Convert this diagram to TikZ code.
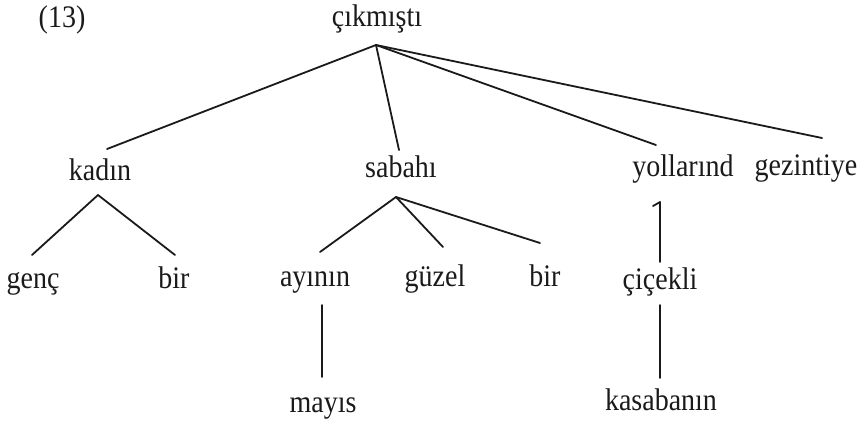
\documentclass[tikz,border=0pt]{standalone}
\usepackage{fontspec}
\setmainfont{Liberation Serif}
% the printed face is a little narrower than plain Times: stretch it upwards
\newcommand\tallword[1]{\scalebox{1}[1.12]{#1}}
\begin{document}
\begin{tikzpicture}[x=1pt,y=-1pt,
  word/.style={anchor=base,inner sep=0pt,font=\fontsize{28}{30}\selectfont,text=ink},
  edge/.style={draw=ink,line width=1.8pt,line cap=round,line join=round}]
\definecolor{ink}{HTML}{1A1A1A}
\useasboundingbox (0,0) rectangle (863,425);

% words, placed by centre and baseline
\node[word] (num)     at (62,28)   {\tallword{(13)}};
\node[word] (root)    at (377,27)  {\tallword{çıkmıştı}};
\node[word] (kadin)   at (100,181) {\tallword{kadın}};
\node[word] (sabahi)  at (401,178) {\tallword{sabahı}};
\node[word] (yol)     at (683,177) {\tallword{yollarınd}};
\node[word] (gez)     at (806,176) {\tallword{gezintiye}};
\node[word] (genc)    at (33,288)  {\tallword{genç}};
\node[word] (birA)    at (174,288) {\tallword{bir}};
\node[word] (ayinin)  at (315,287) {\tallword{ayının}};
\node[word] (guzel)   at (435,287) {\tallword{güzel}};
\node[word] (birB)    at (545,287) {\tallword{bir}};
\node[word] (cicekli) at (660,289) {\tallword{çiçekli}};
\node[word] (mayis)   at (323,412) {\tallword{mayıs}};
\node[word] (kasaba)  at (661,410) {\tallword{kasabanın}};

% attachment points of the branches
\coordinate (root-foot)    at (376,45);
\coordinate (kadin-top)    at (107,149);
\coordinate (sabahi-top)   at (399,150);
\coordinate (yol-top)      at (656,145);
\coordinate (gez-top)      at (822,138);
\coordinate (kadin-foot)   at (98,195);
\coordinate (genc-top)     at (32,255);
\coordinate (birA-top)     at (175,255);
\coordinate (sabahi-foot)  at (396,197);
\coordinate (ayinin-top)   at (320,252);
\coordinate (guzel-top)    at (443,247);
\coordinate (birB-top)     at (540,243);
\coordinate (yol-hook)     at (653,206);
\coordinate (yol-foot)     at (660,202);
\coordinate (cicekli-top)  at (660,262);
\coordinate (ayinin-foot)  at (322,305);
\coordinate (mayis-top)    at (322,377);
\coordinate (cicekli-foot) at (660,305);
\coordinate (kasaba-top)   at (660,378);

% branches
\draw[edge] (root-foot) -- (kadin-top);
\draw[edge] (root-foot) -- (sabahi-top);
\draw[edge] (root-foot) -- (yol-top);
\draw[edge] (root-foot) -- (gez-top);
\draw[edge] (kadin-foot) -- (genc-top);
\draw[edge] (kadin-foot) -- (birA-top);
\draw[edge] (sabahi-foot) -- (ayinin-top);
\draw[edge] (sabahi-foot) -- (guzel-top);
\draw[edge] (sabahi-foot) -- (birB-top);
\draw[edge] (yol-hook) -- (yol-foot) -- (cicekli-top);
\draw[edge] (ayinin-foot) -- (mayis-top);
\draw[edge] (cicekli-foot) -- (kasaba-top);
\end{tikzpicture}
\end{document}
